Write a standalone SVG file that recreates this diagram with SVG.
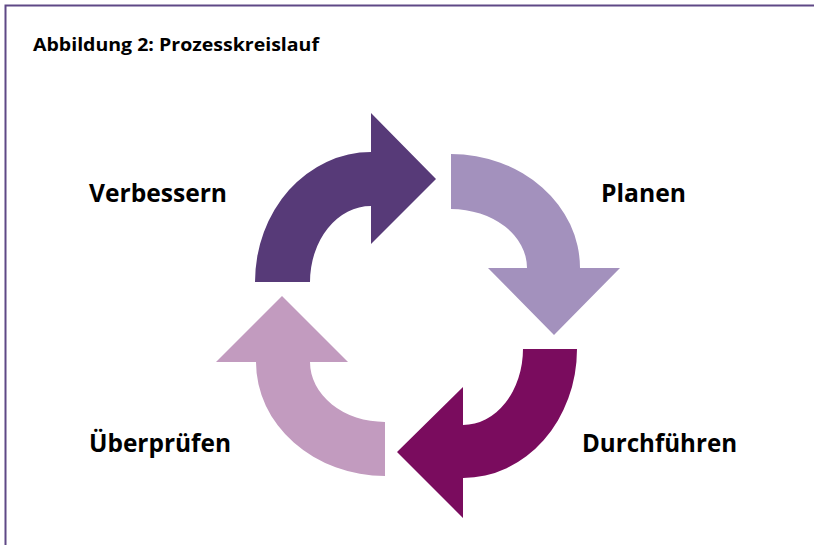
<svg xmlns="http://www.w3.org/2000/svg" width="814" height="545" viewBox="0 0 814 545">
<style>
.lbl{font-family:"Open Sans","Liberation Sans",sans-serif;font-weight:700;font-size:25px;fill:#000}
.title{font-family:"Open Sans","Liberation Sans",sans-serif;font-weight:700;font-size:18px;fill:#000}
</style>
<rect width="814" height="545" fill="#fff"/>
<g id="frame" fill="none" stroke="#5f4886" stroke-width="2">
<path d="M5.5,545 V5.5 H814"/>
</g>
<text class="title" x="33" y="51" textLength="286" lengthAdjust="spacingAndGlyphs">Abbildung 2: Prozesskreislauf</text>
<g id="connectors">
<path id="arrow-verbessern" fill="#573a78" d="M255,282 A116,130 0 0 1 371,152 L371,113 L436,179 L371,244 L371,206 A61,76 0 0 0 310,282 Z"/>
<path id="arrow-planen" fill="#a391bd" d="M451,154 A129,114 0 0 1 580,268 L620,268 L554,335 L488,268 L527,268 A76,59 0 0 0 451,209 Z"/>
<path id="arrow-durchfuehren" fill="#7a0c5e" d="M577,349 A114,129 0 0 1 463,478 L463,518 L397,452 L463,387 L463,425 A60,76 0 0 0 523,349 Z"/>
<path id="arrow-ueberpruefen" fill="#c29bbf" d="M385,476 A129,114 0 0 1 256,362 L216,362 L282,296 L348,362 L310,362 A75,60 0 0 0 385,422 Z"/>
</g>
<g id="node-verbessern"><text class="lbl" x="89" y="202" textLength="138" lengthAdjust="spacingAndGlyphs">Verbessern</text></g>
<g id="node-planen"><text class="lbl" x="601" y="202" textLength="85" lengthAdjust="spacingAndGlyphs">Planen</text></g>
<g id="node-durchfuehren"><text class="lbl" x="582" y="452" textLength="155" lengthAdjust="spacingAndGlyphs">Durchführen</text></g>
<g id="node-ueberpruefen"><text class="lbl" x="89" y="452" textLength="142" lengthAdjust="spacingAndGlyphs">Überprüfen</text></g>
</svg>
